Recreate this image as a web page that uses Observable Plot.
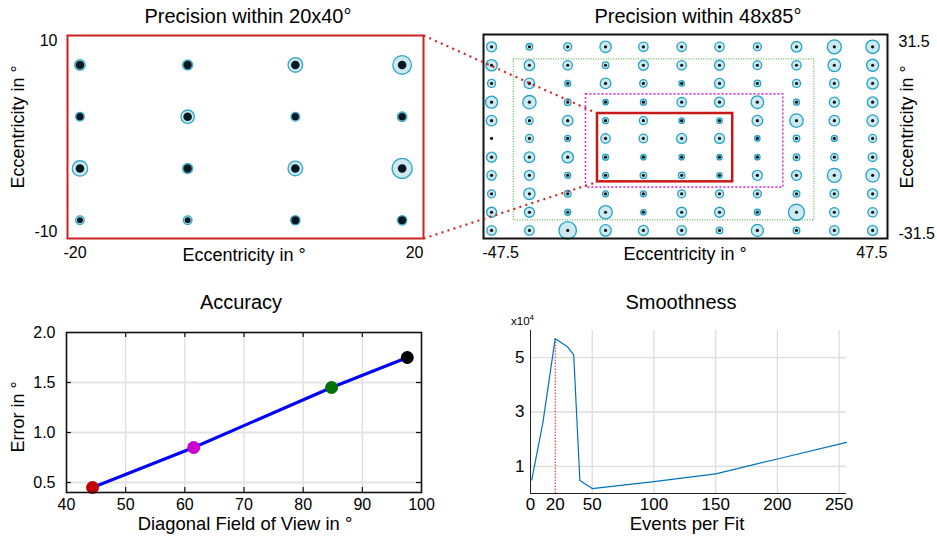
<!DOCTYPE html>
<html><head><meta charset="utf-8">
<script src="https://cdn.jsdelivr.net/npm/d3@7"></script>
<script src="https://cdn.jsdelivr.net/npm/@observablehq/plot@0.6"></script>
<style>
html,body{margin:0;padding:0;background:#fff;}
#root{position:relative;width:937px;height:538px;overflow:hidden;font-family:"Liberation Sans",Arial,sans-serif;color:#000;}
.pl{position:absolute;}
.lbl{position:absolute;line-height:1;white-space:nowrap;transform:translate(-50%,-50%);}
.rot{transform:translate(-50%,-50%) rotate(-90deg);}
</style></head><body><div id="root"></div>
<script>
// ---------- Panel 1: Precision within 20x40°
const p1X = [-18.6, -6.5, 5.6, 17.6];
const p1Y = [7.1, 2.0, -3.1, -8.2];
const p1Outer = [[5.3,5.0,7.3,9.3],[4.3,6.7,4.3,4.7],[7.7,5.0,7.3,10.0],[4.3,4.3,4.7,4.7]];
const p1Inner = [[4.3,4.2,4.3,4.3],[3.6,4.3,3.6,3.8],[4.3,4.2,4.3,4.3],[3.0,3.0,4.0,4.0]];
const p1XTicks = [-20, 20];
const p1YTicks = [-10, 10];

// ---------- Panel 2: Precision within 48x85°
const p2X = [-45.6,-36.7,-27.7,-18.8,-9.9,-0.9,8.0,16.9,26.1,35.0,44.0];
const p2Y = [27.7,22.0,16.4,10.6,4.9,-0.6,-6.4,-12.0,-17.7,-23.4,-29.0];
const p2Outer = [
  [5.0,3.3,4.0,5.7,4.7,4.7,4.7,4.0,5.3,7.0,6.7],
  [5.7,5.3,4.7,3.3,5.0,4.7,5.0,4.3,4.7,6.3,6.0],
  [4.0,5.3,3.0,5.3,3.7,2.7,5.0,3.3,4.0,4.7,5.7],
  [6.0,6.7,3.3,2.7,3.0,4.7,5.0,6.3,3.0,5.0,5.3],
  [5.3,3.7,5.3,3.0,4.0,2.7,2.7,5.3,6.7,5.3,5.7],
  [0,4.0,3.0,4.7,4.3,5.0,5.0,2.7,3.3,3.0,4.0],
  [5.0,5.3,5.7,3.0,2.7,2.7,2.7,2.7,3.3,3.7,4.3],
  [4.7,5.0,3.0,3.0,3.3,3.3,2.7,5.0,5.0,7.0,6.7],
  [4.0,5.7,3.3,3.0,3.0,4.0,4.0,4.0,3.3,4.3,5.0],
  [5.0,5.0,3.0,6.7,2.7,5.0,5.0,3.0,8.0,4.7,4.7],
  [4.7,4.7,8.7,5.7,5.0,4.7,3.3,6.0,3.3,4.7,5.0]
];
const p2XTicks = [-47.5, 47.5];
const p2YTicks = [-31.5, 31.5];
// sub-regions (green, magenta, red 20x40)
const regionX1 = [-40.4, -23.4, -20.7];
const regionX2 = [30.3, 23.0, 11.1];
const regionY1 = [-25.9, -15.8, -14.0];
const regionY2 = [23.8, 13.0, 7.1];
// zoom connectors (panel-1 frame corners -> red region corners)
const connX1 = [-61.6, -61.6];
const connY1 = [31.2, -31.5];
const connX2 = [-20.7, -20.7];
const connY2 = [7.1, -14.0];

// ---------- Panel 3: Accuracy
const fov = [44.4, 61.5, 84.8, 97.6];
const err = [0.45, 0.85, 1.45, 1.75];
const fovTicks = [40,50,60,70,80,90,100];
const errTicks = [0.5,1.0,1.5,2.0];

// ---------- Panel 4: Smoothness (x10^4)
const events = [1,10,20,30,35,40,50,100,150,200,256];
const smooth = [0.5,2.6,5.7,5.4,5.1,0.48,0.18,0.44,0.72,1.27,1.88];
const eventTicks = [0,20,50,100,150,200,250];
const smoothTicks = [1,3,5];
const chosenEvents = 20;

// ---------- styles
const FONT = "Liberation Sans, Arial, sans-serif";
const regionStroke = ["#3a9a3a", "#d23cd8", "#c81818"];
const regionWidth = [1, 1.6, 2.5];
const regionDash = ["1,1.5", "2,2", null];
const pointColors = ["#c00000", "#cc00cc", "#007000", "#000000"];

const root = document.getElementById("root");
function place(svg, left, top, w) {
  const d = document.createElement("div");
  d.className = "pl"; d.style.left = left + "px"; d.style.top = top + "px"; d.style.width = w + "px";
  d.appendChild(svg); root.appendChild(d);
}
function label(text, cx, cy, size, rot) {
  const d = document.createElement("div");
  d.className = "lbl" + (rot ? " rot" : "");
  d.style.left = cx + "px"; d.style.top = cy + "px"; d.style.fontSize = size + "px";
  d.textContent = text; root.appendChild(d);
}
const baseStyle = {background: "transparent", overflow: "visible", fontFamily: FONT, color: "#000"};
const M = "middle";

// Panel 1
const grid1 = [];
p1Y.forEach((y, r) => p1X.forEach((x, c) => grid1.push({x, y, ro: p1Outer[r][c], ri: p1Inner[r][c]})));
const c1 = Plot.plot({
  width: 470, height: 270, marginLeft: 67, marginRight: 47, marginTop: 35, marginBottom: 32,
  x: {domain: [-20, 20], axis: null}, y: {domain: [-10, 10], axis: null},
  r: {type: "identity"}, style: baseStyle,
  marks: [
    Plot.dot(grid1, {x: "x", y: "y", r: "ro", fill: "#cfe8ef", stroke: "#30a8c8", strokeWidth: 1.3}),
    Plot.dot(grid1, {x: "x", y: "y", r: "ri", fill: "#071920"}),
    Plot.frame({stroke: "#cc2222", strokeWidth: 2}),
    Plot.text([p1YTicks[1]], {y: d => d, frameAnchor: "left", lineAnchor: M, textAnchor: "end", dx: -10, dy: 5.5, text: d => String(d), fontSize: 16}),
    Plot.text([p1YTicks[0]], {y: d => d, frameAnchor: "left", lineAnchor: M, textAnchor: "end", dx: -10, dy: -6.3, text: d => String(d), fontSize: 16}),
    Plot.text([p1XTicks[0]], {x: d => d, frameAnchor: "bottom", lineAnchor: M, textAnchor: "start", dx: -4, dy: 14.5, text: d => String(d), fontSize: 16}),
    Plot.text([p1XTicks[1]], {x: d => d, frameAnchor: "bottom", lineAnchor: M, textAnchor: "end", dx: 0, dy: 14.5, text: d => String(d), fontSize: 16})
  ]
});
place(c1, 0, 0, 470);

// Panel 2
const grid2 = [];
p2Y.forEach((y, r) => p2X.forEach((x, c) => grid2.push({x, y, ro: p2Outer[r][c]})));
const regions = regionX1.map((x1, i) => ({x1, x2: regionX2[i], y1: regionY1[i], y2: regionY2[i]}));
const conns = connX1.map((x1, i) => ({x1, y1: connY1[i], x2: connX2[i], y2: connY2[i]}));
const c2 = Plot.plot({
  width: 517, height: 270, marginLeft: 63, marginRight: 50, marginTop: 34, marginBottom: 32,
  x: {domain: [-47.5, 47.5], axis: null}, y: {domain: [-31.5, 31.5], axis: null},
  r: {type: "identity"}, style: baseStyle,
  marks: [
    Plot.dot(grid2.filter(d => d.ro > 0), {x: "x", y: "y", r: "ro", fill: "#cde9f1", stroke: "#22a2c4", strokeWidth: 1.3}),
    Plot.dot(grid2, {x: "x", y: "y", r: 1.6, fill: "#111"}),
    ...regions.map((g, i) => Plot.rect([g], {x1: "x1", x2: "x2", y1: "y1", y2: "y2", fill: "none",
      stroke: regionStroke[i], strokeWidth: regionWidth[i], strokeDasharray: regionDash[i] || undefined})),
    Plot.frame({stroke: "#111", strokeWidth: 2}),
    Plot.link(conns, {x1: "x1", y1: "y1", x2: "x2", y2: "y2", stroke: "#d42323", strokeWidth: 2.2, strokeDasharray: "2,4.3"}),
    Plot.text([p2YTicks[1]], {y: d => d, frameAnchor: "right", lineAnchor: M, textAnchor: "start", dx: 11, dy: 7.4, text: d => String(d), fontSize: 16}),
    Plot.text([p2YTicks[0]], {y: d => d, frameAnchor: "right", lineAnchor: M, textAnchor: "start", dx: 11, dy: -4.7, text: d => String(d), fontSize: 16}),
    Plot.text([p2XTicks[0]], {x: d => d, frameAnchor: "bottom", lineAnchor: M, textAnchor: "start", dx: -1, dy: 14.5, text: d => String(d), fontSize: 16}),
    Plot.text([p2XTicks[1]], {x: d => d, frameAnchor: "bottom", lineAnchor: M, textAnchor: "end", dx: 0, dy: 14.5, text: d => String(d), fontSize: 16})
  ]
});
place(c2, 420, 0, 517);

// Panel 3
const acc = fov.map((f, i) => ({f, e: err[i], c: pointColors[i]}));
const innerX = fovTicks.slice(1, -1), innerY = errTicks.slice(0, -1);
const c3 = Plot.plot({
  width: 470, height: 258, marginLeft: 66, marginRight: 49, marginTop: 52, marginBottom: 46,
  x: {domain: [40, 100], axis: null}, y: {domain: [0.4, 2.0], axis: null},
  color: {type: "identity"}, style: baseStyle,
  marks: [
    Plot.ruleX(innerX, {stroke: "#dedede", strokeWidth: 1.3}),
    Plot.ruleY(innerY, {stroke: "#e4e4e4", strokeWidth: 1.8}),
    Plot.line(acc, {x: "f", y: "e", stroke: "#0000ff", strokeWidth: 3}),
    Plot.dot(acc, {x: "f", y: "e", r: 6.5, fill: "c"}),
    Plot.ruleX(innerX, {y1: 0.4, y2: 0.45, stroke: "#111", strokeWidth: 1.2}),
    Plot.ruleX(innerX, {y1: 1.95, y2: 2.0, stroke: "#111", strokeWidth: 1.2}),
    Plot.ruleY(innerY, {x1: 40, x2: 40.85, stroke: "#111", strokeWidth: 1.2}),
    Plot.ruleY(innerY, {x1: 99.15, x2: 100, stroke: "#111", strokeWidth: 1.2}),
    Plot.frame({stroke: "#111", strokeWidth: 1.6}),
    Plot.text(fovTicks, {x: d => d, frameAnchor: "bottom", lineAnchor: M, dy: 12, text: d => String(d), fontSize: 16}),
    Plot.text(errTicks, {y: d => d, frameAnchor: "left", lineAnchor: M, textAnchor: "end", dx: -11, text: d => d.toFixed(1), fontSize: 16})
  ]
});
place(c3, 0, 280, 470);

// Panel 4
const sm = events.map((e, i) => ({e, s: smooth[i]}));
const peak = smooth[events.indexOf(chosenEvents)];
const c4 = Plot.plot({
  width: 467, height: 258, marginLeft: 60, marginRight: 91, marginTop: 50, marginBottom: 45,
  x: {domain: [0, 256], axis: null}, y: {domain: [0, 6], axis: null},
  style: baseStyle,
  marks: [
    Plot.ruleX(eventTicks.filter(d => d >= 50), {stroke: "#dcdcdc", strokeWidth: 1.3}),
    Plot.ruleY(smoothTicks, {stroke: "#dcdcdc", strokeWidth: 1.3}),
    Plot.ruleX([chosenEvents], {y1: 0, y2: peak, stroke: "#e01f1f", strokeWidth: 1, strokeDasharray: "1.5,1.5"}),
    Plot.line(sm, {x: "e", y: "s", stroke: "#0072bd", strokeWidth: 1.2}),
    Plot.ruleX([0], {stroke: "#222", strokeWidth: 1}),
    Plot.ruleY([0], {stroke: "#222", strokeWidth: 1}),
    Plot.text(eventTicks, {x: d => d, frameAnchor: "bottom", lineAnchor: M, dy: 11.3, text: d => String(d), fontSize: 17}),
    Plot.text(smoothTicks, {y: d => d, frameAnchor: "left", lineAnchor: M, textAnchor: "end", dx: -6, text: d => String(d), fontSize: 17})
  ]
});
place(c4, 470, 280, 467);

// titles and axis labels
label("Precision within 20x40°", 248, 16, 20);
label("Precision within 48x85°", 698, 16, 20);
label("Accuracy", 241, 302, 20);
label("Smoothness", 681, 302, 20);
label("Eccentricity in °", 244, 255, 18);
label("Eccentricity in °", 685, 254, 18);
label("Eccentricity in °", 18, 127, 18, true);
label("Eccentricity in °", 906.5, 127, 18, true);
label("Diagonal Field of View in °", 245, 524, 18.4);
label("Error in °", 18, 417, 18, true);
label("Events per Fit", 687, 524, 18.6);
const ex = document.createElement("div");
ex.style.cssText = "position:absolute;left:511px;top:316px;font-size:11.5px;line-height:1;white-space:nowrap;";
ex.innerHTML = 'x10<span style="font-size:8px;position:relative;top:-5px;">4</span>';
root.appendChild(ex);
</script></body></html>
